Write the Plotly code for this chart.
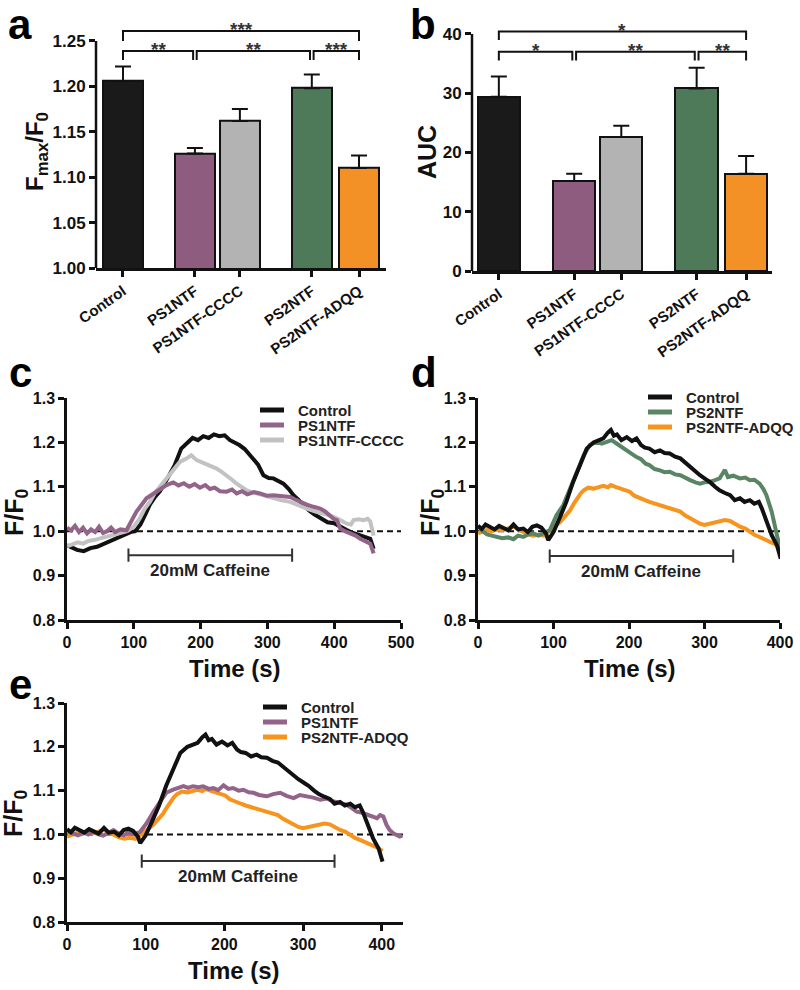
import plotly.graph_objects as go

W, H = 800, 990
FONT = "Liberation Sans, Arial, sans-serif"
INK = "#111111"

# --- bar data (panels a, b) ---
groups = ["Control", "PS1NTF", "PS1NTF-CCCC", "PS2NTF", "PS2NTF-ADQQ"]
bar_pos = [0, 1.6, 2.6, 4.2, 5.25]
bar_colors = ["#1a1a1a", "#8E5C7E", "#B3B3B3", "#4F7A5A", "#F39026"]
fmax_mean = [1.206, 1.126, 1.162, 1.198, 1.110]
fmax_sem = [0.016, 0.006, 0.013, 0.015, 0.014]
auc_mean = [29.4, 15.2, 22.6, 30.8, 16.4]
auc_sem = [3.4, 1.2, 1.9, 3.5, 3.0]

# significance brackets: (from group, to group, level)
sig_pairs = [(0, 4, "top"), (0, 1, "low"), (1, 3, "low"), (3, 4, "low")]
sig_a = ["***", "**", "**", "***"]
sig_b = ["*", "*", "**", "**"]

# --- traces (panels c, d, e) ---
c_t_control = [0, 8, 15, 25, 35, 45, 55, 65, 75, 85, 95, 102, 110, 118, 124, 132, 139, 147, 154, 161,
               171, 178, 188, 196, 204, 212, 220, 228, 236, 244, 252, 258, 266, 278, 286, 294, 302,
               309, 317, 324, 332, 339, 347, 354, 362, 370, 379, 390, 400, 409, 418, 428, 439, 448,
               454, 459]
c_control = [0.968, 0.962, 0.958, 0.955, 0.962, 0.965, 0.972, 0.978, 0.985, 0.992, 0.998, 1.0, 1.015,
             1.04, 1.06, 1.078, 1.09, 1.11, 1.13, 1.148, 1.186, 1.197, 1.21, 1.205, 1.214, 1.21, 1.218,
             1.214, 1.216, 1.205, 1.2, 1.194, 1.185, 1.165, 1.15, 1.126, 1.12, 1.119, 1.112, 1.107,
             1.095, 1.081, 1.07, 1.059, 1.047, 1.038, 1.029, 1.02, 1.018, 1.01, 1.003, 0.996, 0.991,
             0.988, 0.983, 0.96]

c_t_ps1 = [0, 6, 12, 18, 24, 30, 36, 42, 48, 54, 60, 66, 72, 80, 89, 96, 104, 112, 119, 127, 134, 142,
           149, 159, 167, 175, 183, 191, 199, 207, 214, 221, 229, 239, 247, 254, 262, 270, 280, 289,
           299, 309, 320, 334, 341, 349, 359, 369, 379, 386, 393, 399, 404, 409, 416, 424, 432, 439,
           447, 454, 459]
c_ps1 = [1.008, 1.002, 1.012, 0.998, 1.008, 0.995, 1.004, 0.998, 1.01, 0.996, 1.0, 1.008, 0.998,
         1.004, 1.002, 1.02, 1.044, 1.06, 1.074, 1.082, 1.089, 1.098, 1.104, 1.11, 1.103, 1.108, 1.1,
         1.106, 1.098, 1.104, 1.095, 1.098, 1.09, 1.089, 1.094, 1.085, 1.09, 1.083, 1.088, 1.085,
         1.08, 1.081, 1.079, 1.077, 1.072, 1.066, 1.06, 1.055, 1.051, 1.045, 1.035, 1.028, 1.025,
         1.006, 1.0, 0.995, 0.99, 0.983, 0.978, 0.972, 0.95]

c_t_cccc = [0, 8, 16, 24, 32, 40, 50, 60, 70, 80, 90, 100, 109, 116, 124, 131, 139, 146, 154, 162,
            169, 178, 186, 194, 201, 209, 217, 224, 232, 239, 247, 254, 262, 269, 277, 284, 292, 300,
            309, 320, 334, 346, 359, 371, 384, 394, 404, 412, 419, 425, 429, 437, 444, 450, 454, 459]
c_cccc = [0.966, 0.97, 0.975, 0.972, 0.978, 0.98, 0.984, 0.99, 0.993, 0.996, 1.0, 1.01, 1.029, 1.05,
          1.066, 1.085, 1.1, 1.112, 1.126, 1.14, 1.156, 1.163, 1.171, 1.16, 1.156, 1.149, 1.145,
          1.141, 1.133, 1.126, 1.116, 1.107, 1.1, 1.092, 1.088, 1.085, 1.083, 1.08, 1.074, 1.07,
          1.066, 1.058, 1.051, 1.045, 1.04, 1.035, 1.029, 1.022, 1.017, 1.015, 1.025, 1.027, 1.025,
          1.028, 1.022, 0.99]

d_t_control = [0, 5, 10, 16, 22, 28, 34, 40, 47, 53, 60, 66, 72, 78, 84, 90, 93, 100, 108, 117, 126,
               135, 144, 153, 160, 166, 172, 176, 180, 184, 190, 197, 204, 210, 216, 221, 227, 234,
               241, 247, 254, 261, 268, 274, 281, 288, 294, 301, 307, 314, 320, 327, 334, 340, 347,
               353, 360, 366, 372, 376, 382, 389, 396, 401]
d_control = [1.012, 1.005, 1.015, 1.01, 1.004, 1.012, 1.008, 1.002, 1.015, 1.004, 1.006, 0.998, 1.01,
             1.013, 1.008, 0.995, 0.98, 0.998, 1.029, 1.066, 1.111, 1.149, 1.186, 1.2, 1.205, 1.209,
             1.222, 1.228, 1.215, 1.218, 1.205, 1.212, 1.203, 1.209, 1.194, 1.188, 1.186, 1.178,
             1.182, 1.176, 1.175, 1.168, 1.164, 1.155, 1.145, 1.135, 1.126, 1.118, 1.111, 1.1, 1.092,
             1.086, 1.081, 1.07, 1.074, 1.066, 1.07, 1.062, 1.066, 1.051, 1.021, 0.991, 0.968, 0.938]

d_t_ps2 = [0, 6, 12, 18, 25, 32, 40, 47, 53, 60, 67, 73, 80, 86, 95, 104, 113, 122, 131, 140, 148,
           157, 164, 170, 177, 184, 190, 197, 204, 210, 216, 222, 227, 234, 241, 247, 254, 261, 268,
           274, 281, 288, 294, 300, 307, 314, 320, 324, 327, 331, 338, 347, 354, 360, 366, 373, 378,
           382, 389, 396, 401]
d_ps2 = [1.012, 1.0, 0.993, 0.99, 0.988, 0.984, 0.986, 0.982, 0.99, 0.987, 0.993, 0.995, 0.99, 0.995,
         1.002, 1.036, 1.059, 1.096, 1.134, 1.171, 1.194, 1.201, 1.197, 1.201, 1.205, 1.197, 1.19,
         1.182, 1.172, 1.167, 1.162, 1.152, 1.149, 1.14, 1.137, 1.133, 1.134, 1.128, 1.126, 1.12,
         1.115, 1.11, 1.107, 1.11, 1.111, 1.115, 1.119, 1.13, 1.138, 1.122, 1.125, 1.119, 1.121,
         1.115, 1.116, 1.107, 1.095, 1.081, 1.044, 0.991, 0.953]

d_t_adqq = [0, 6, 12, 18, 25, 32, 40, 47, 53, 60, 66, 73, 80, 87, 95, 102, 109, 116, 122, 127, 131,
            136, 140, 146, 153, 160, 166, 172, 176, 182, 188, 195, 201, 207, 214, 221, 227, 234, 241,
            248, 254, 261, 268, 274, 281, 288, 294, 300, 307, 314, 320, 327, 334, 340, 347, 354, 360,
            366, 373, 380, 387, 394, 401]
d_adqq = [0.995, 0.998, 1.003, 1.0, 1.004, 1.002, 1.006, 1.01, 1.005, 0.998, 0.993, 0.99, 0.992, 0.99,
          1.002, 1.012, 1.021, 1.035, 1.047, 1.062, 1.074, 1.085, 1.092, 1.098, 1.096, 1.1, 1.102,
          1.099, 1.104, 1.1, 1.096, 1.093, 1.089, 1.08, 1.074, 1.07, 1.066, 1.062, 1.059, 1.055,
          1.051, 1.047, 1.044, 1.036, 1.029, 1.022, 1.017, 1.014, 1.017, 1.02, 1.021, 1.025, 1.023,
          1.017, 1.01, 1.006, 0.998, 0.992, 0.987, 0.982, 0.976, 0.97, 0.962]

e_t_ps1 = [0, 7, 14, 21, 27, 33, 40, 46, 53, 59, 65, 72, 78, 85, 93, 101, 110, 118, 126, 135, 142,
           148, 154, 160, 167, 173, 180, 186, 192, 199, 205, 211, 218, 224, 231, 237, 244, 254, 262,
           271, 279, 288, 296, 305, 313, 322, 330, 339, 347, 355, 362, 368, 374, 381, 387, 394, 398,
           402, 406, 410, 415, 420, 423, 426]
e_ps1 = [1.01, 1.002, 0.998, 1.005, 1.0, 1.006, 1.0, 0.997, 1.004, 1.01, 1.003, 0.998, 1.004, 1.0,
         1.006, 1.025, 1.052, 1.075, 1.095, 1.102, 1.106, 1.11, 1.106, 1.11, 1.108, 1.11, 1.104,
         1.106, 1.101, 1.112, 1.104, 1.106, 1.1, 1.102, 1.096, 1.095, 1.09, 1.087, 1.092, 1.095,
         1.088, 1.083, 1.09, 1.087, 1.084, 1.079, 1.082, 1.075, 1.071, 1.068, 1.06, 1.052, 1.05,
         1.045, 1.04, 1.037, 1.044, 1.041, 1.022, 1.01, 1.002, 0.998, 0.995, 0.998]

# caffeine application window per panel (s)
caffeine_c = [92, 337]
caffeine_d = [95, 338]
caffeine_e = [95, 340]

COL = {"Control": "#111111", "PS1NTF": "#93648A", "PS1NTF-CCCC": "#C2C2C2",
       "PS2NTF": "#5A8564", "PS2NTF-ADQQ": "#F7941D"}


def pxx(px):
    return px / W


def pxy(py):
    return 1 - py / H


def bold(size, color=INK):
    return dict(family=FONT, size=size, color=color, weight="bold")


fig = go.Figure()

# panel a, b bars
for i, (vals, sem) in enumerate([(fmax_mean, fmax_sem), (auc_mean, auc_sem)], start=1):
    fig.add_trace(go.Bar(
        x=bar_pos, y=vals, width=0.9,
        marker=dict(color=bar_colors, line=dict(color=INK, width=2)),
        error_y=dict(type="data", array=sem, arrayminus=[0] * len(sem), symmetric=False,
                     color=INK, thickness=2, width=8),
        xaxis=f"x{i if i > 1 else ''}", yaxis=f"y{i if i > 1 else ''}", showlegend=False,
    ))

# panels c, d, e traces
panel_traces = [
    ("3", [("Control", c_t_control, c_control), ("PS1NTF-CCCC", c_t_cccc, c_cccc),
           ("PS1NTF", c_t_ps1, c_ps1)]),
    ("4", [("PS2NTF-ADQQ", d_t_adqq, d_adqq), ("PS2NTF", d_t_ps2, d_ps2),
           ("Control", d_t_control, d_control)]),
    ("5", [("PS2NTF-ADQQ", d_t_adqq, d_adqq), ("PS1NTF", e_t_ps1, e_ps1),
           ("Control", d_t_control, d_control)]),
]
for ax, items in panel_traces:
    for name, t, v in items:
        fig.add_trace(go.Scatter(x=t, y=v, mode="lines", name=name,
                                 line=dict(color=COL[name], width=4),
                                 xaxis="x" + ax, yaxis="y" + ax, showlegend=False))

axis_common = dict(showline=True, linecolor=INK, linewidth=2.5, ticks="outside", ticklen=6,
                   tickwidth=2.5, tickcolor=INK, showgrid=False, zeroline=False,
                   automargin=False, tickfont=bold(16))

layout_axes = {}
# a
layout_axes["xaxis"] = dict(axis_common, domain=[pxx(96), pxx(386)], range=[-0.6, 5.85],
                            tickvals=bar_pos, ticktext=groups, tickangle=-35,
                            tickfont=bold(15), anchor="y")
layout_axes["yaxis"] = dict(axis_common, domain=[pxy(268), pxy(22.8)], range=[1.0, 1.27],
                            tickvals=[1.0, 1.05, 1.10, 1.15, 1.20, 1.25], tickformat=".2f",
                            showline=False, anchor="x", tickfont=bold(17))
# b
layout_axes["xaxis2"] = dict(axis_common, domain=[pxx(472), pxx(772)], range=[-0.57, 5.8],
                             tickvals=bar_pos, ticktext=groups, tickangle=-35,
                             tickfont=bold(15), anchor="y2")
layout_axes["yaxis2"] = dict(axis_common, domain=[pxy(271), pxy(22.1)], range=[0, 42],
                             tickvals=[0, 10, 20, 30, 40], showline=False, anchor="x2",
                             tickfont=bold(17))
# c, d, e
line_y = dict(range=[0.8, 1.3], tickvals=[0.8, 0.9, 1.0, 1.1, 1.2, 1.3], tickformat=".1f")
layout_axes["xaxis3"] = dict(axis_common, domain=[pxx(67), pxx(401)], range=[0, 500],
                             tickvals=[0, 100, 200, 300, 400, 500], anchor="y3")
layout_axes["yaxis3"] = dict(axis_common, **line_y, domain=[pxy(620), pxy(398)], anchor="x3")
layout_axes["xaxis4"] = dict(axis_common, domain=[pxx(478), pxx(780)], range=[0, 400],
                             tickvals=[0, 100, 200, 300, 400], anchor="y4")
layout_axes["yaxis4"] = dict(axis_common, **line_y, domain=[pxy(620), pxy(398)], anchor="x4")
layout_axes["xaxis5"] = dict(axis_common, domain=[pxx(67), pxx(403)], range=[0, 427],
                             tickvals=[0, 100, 200, 300, 400], anchor="y5")
layout_axes["yaxis5"] = dict(axis_common, **line_y, domain=[pxy(922), pxy(703)], anchor="x5")

shapes = []
annotations = []

# bar-chart y axis lines stop at the top tick
shapes.append(dict(type="line", xref="x domain", yref="y", x0=0, x1=0, y0=1.0, y1=1.25,
                   line=dict(color=INK, width=2.5)))
shapes.append(dict(type="line", xref="x2 domain", yref="y2", x0=0, x1=0, y0=0, y1=40,
                   line=dict(color=INK, width=2.5)))

# significance brackets
bracket_levels = {
    "": {"top": (1.261, 1.25), "low": (1.239, 1.229)},
    "2": {"top": (40.4, 39.0), "low": (37.0, 35.5)},
}
for ax, labels in [("", sig_a), ("2", sig_b)]:
    for (g0, g1, lvl), lab in zip(sig_pairs, labels):
        x0 = bar_pos[g0] + (0.04 if g0 in (1, 3) and lvl == "low" else 0)
        x1 = bar_pos[g1] - (0.04 if g1 in (1, 3) and lvl == "low" else 0)
        yl, yt = bracket_levels[ax][lvl]
        shapes.append(dict(type="path", xref="x" + ax, yref="y" + ax,
                           path=f"M {x0},{yt} L {x0},{yl} L {x1},{yl} L {x1},{yt}",
                           line=dict(color=INK, width=2)))
        annotations.append(dict(x=(x0 + x1) / 2, y=yl, xref="x" + ax, yref="y" + ax, text=lab,
                                showarrow=False, font=bold(19, "#333333"), yanchor="middle",
                                yshift=1))

# dashed baseline and caffeine bars
for ax, (s, e), ylev in [("3", caffeine_c, 0.946), ("4", caffeine_d, 0.944), ("5", caffeine_e, 0.939)]:
    shapes.append(dict(type="line", xref=f"x{ax} domain", yref="y" + ax, x0=0, x1=1, y0=1.0,
                       y1=1.0, layer="below", line=dict(color=INK, width=2, dash="6px,4px")))
    shapes.append(dict(type="path", xref="x" + ax, yref="y" + ax,
                       path=(f"M {s},{ylev - 0.015} L {s},{ylev + 0.015} M {s},{ylev} L {e},{ylev} "
                             f"M {e},{ylev - 0.015} L {e},{ylev + 0.015}"),
                       line=dict(color="#333333", width=2)))
    annotations.append(dict(x=(s + e) / 2, y=ylev, xref="x" + ax, yref="y" + ax,
                            text="20mM Caffeine", showarrow=False, font=bold(17, "#222222"),
                            yanchor="top", yshift=-4))

# legends (c, d, e)
legends = [
    (["Control", "PS1NTF", "PS1NTF-CCCC"], 260, 410),
    (["Control", "PS2NTF", "PS2NTF-ADQQ"], 648, 397),
    (["Control", "PS1NTF", "PS2NTF-ADQQ"], 263, 707),
]
for names, lx, ly in legends:
    for k, name in enumerate(names):
        yy = ly + k * 15
        shapes.append(dict(type="line", xref="paper", yref="paper", x0=pxx(lx), x1=pxx(lx + 24),
                           y0=pxy(yy), y1=pxy(yy), line=dict(color=COL[name], width=5)))
        annotations.append(dict(x=pxx(lx + 36), y=pxy(yy), xref="paper", yref="paper", text=name,
                                showarrow=False, xanchor="left", yanchor="middle",
                                font=bold(15, "#222222")))

# axis titles
titles = [
    ("F<sub>max</sub>/F<sub>0</sub>", 36, 152, -90, 24),
    ("AUC", 427, 152, -90, 25),
    ("F/F<sub>0</sub>", 16, 512, -90, 25),
    ("F/F<sub>0</sub>", 432, 512, -90, 25),
    ("F/F<sub>0</sub>", 15, 813, -90, 25),
    ("Time (s)", 235, 668, 0, 24),
    ("Time (s)", 630, 668, 0, 24),
    ("Time (s)", 234, 970, 0, 24),
]
for text, x, y, ang, size in titles:
    annotations.append(dict(x=pxx(x), y=pxy(y), xref="paper", yref="paper", text=text,
                            showarrow=False, textangle=ang, font=bold(size),
                            xanchor="center", yanchor="middle"))

# panel letters
for letter, x, y in [("a", 20, 24), ("b", 423, 24), ("c", 20, 372), ("d", 424, 372), ("e", 20, 684)]:
    annotations.append(dict(x=pxx(x), y=pxy(y), xref="paper", yref="paper", text=letter,
                            showarrow=False, font=bold(42, "#000000"),
                            xanchor="center", yanchor="middle"))

fig.update_layout(
    template="none",
    width=W, height=H,
    margin=dict(l=0, r=0, t=0, b=0, autoexpand=False),
    paper_bgcolor="white", plot_bgcolor="white",
    font=dict(family=FONT, color=INK),
    bargap=0,
    shapes=shapes, annotations=annotations,
    showlegend=False,
    **layout_axes,
)

# the page's default body margin would shift the whole figure by 8px
fig.write_html("out.html", config={"displayModeBar": False},
               post_script="document.body.style.margin = '0';")
